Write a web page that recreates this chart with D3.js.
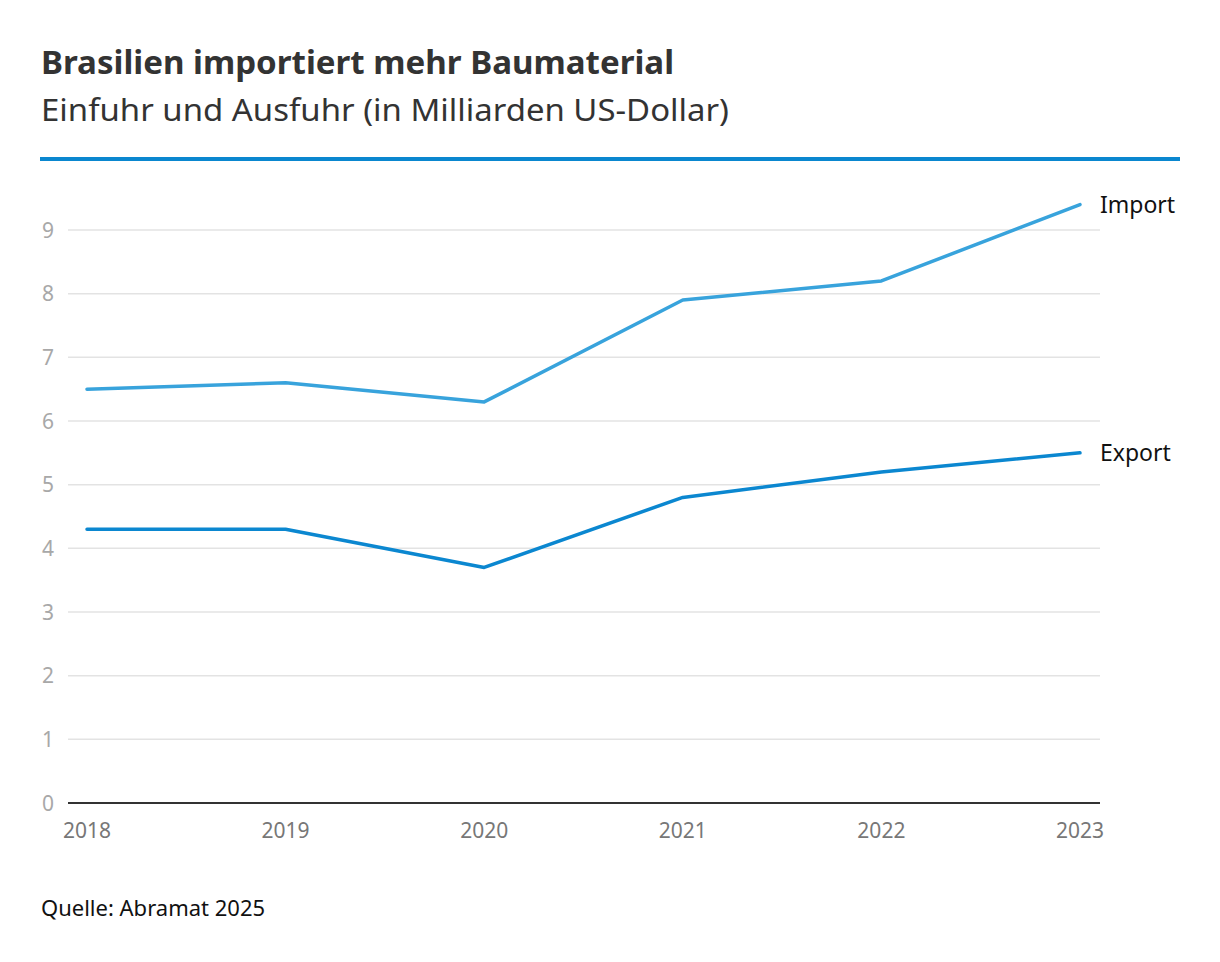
<!DOCTYPE html>
<html>
<head>
<meta charset="utf-8">
<script src="https://cdn.jsdelivr.net/npm/d3@7"></script>
<style>
  body { margin: 0; background: #fff; }
  svg { display: block; font-family: "Noto Sans", "Open Sans", sans-serif; }
</style>
</head>
<body>
<div id="chart"></div>
<script>
const years = [2018, 2019, 2020, 2021, 2022, 2023];
const importValues = [6.5, 6.6, 6.3, 7.9, 8.2, 9.4];
const exportValues = [4.3, 4.3, 3.7, 4.8, 5.2, 5.5];
const yTicks = [0, 1, 2, 3, 4, 5, 6, 7, 8, 9];
const seriesNames = ["Import", "Export"];
const seriesColors = ["#38a3dc", "#0b87d0"];

const width = 1220;
const height = 962;

const svg = d3.select("#chart")
  .append("svg")
  .attr("width", width)
  .attr("height", height);

// heading
svg.append("text")
  .attr("x", 41)
  .attr("y", 74)
  .attr("font-size", 32)
  .attr("font-weight", 700)
  .attr("fill", "#333")
  .attr("textLength", 633)
  .attr("lengthAdjust", "spacingAndGlyphs")
  .text("Brasilien importiert mehr Baumaterial");

svg.append("text")
  .attr("x", 41)
  .attr("y", 121)
  .attr("font-size", 31)
  .attr("fill", "#333")
  .attr("textLength", 688)
  .attr("lengthAdjust", "spacingAndGlyphs")
  .text("Einfuhr und Ausfuhr (in Milliarden US-Dollar)");

svg.append("rect")
  .attr("x", 40)
  .attr("y", 157)
  .attr("width", 1140)
  .attr("height", 4)
  .attr("fill", "#0a87cf");

const x = d3.scalePoint().domain(years).range([87, 1080]);
const y = d3.scaleLinear().domain([0, 9]).range([803, 230]);

const gridLeft = 68;
const gridRight = 1100;

// grid
svg.append("g")
  .selectAll("line")
  .data(yTicks.filter((d) => d > 0))
  .join("line")
  .attr("x1", gridLeft)
  .attr("x2", gridRight)
  .attr("y1", (d) => y(d))
  .attr("y2", (d) => y(d))
  .attr("stroke", "#e3e3e3")
  .attr("stroke-width", 1.5);

// y labels
svg.append("g")
  .selectAll("text")
  .data(yTicks)
  .join("text")
  .attr("x", 54)
  .attr("y", (d) => y(d))
  .attr("dy", "0.36em")
  .attr("text-anchor", "end")
  .attr("font-size", 21)
  .attr("fill", "#a8a8a8")
  .text((d) => d);

// baseline
svg.append("line")
  .attr("x1", gridLeft)
  .attr("x2", gridRight)
  .attr("y1", y(0))
  .attr("y2", y(0))
  .attr("stroke", "#333")
  .attr("stroke-width", 2);

// x labels
svg.append("g")
  .selectAll("text")
  .data(years)
  .join("text")
  .attr("x", (d) => x(d))
  .attr("y", 838)
  .attr("text-anchor", "middle")
  .attr("font-size", 21)
  .attr("fill", "#777")
  .text((d) => d);

const line = d3.line()
  .x((d, i) => x(years[i]))
  .y((d) => y(d));

const series = [importValues, exportValues];

svg.append("g")
  .selectAll("path")
  .data(series)
  .join("path")
  .attr("d", (d) => line(d))
  .attr("fill", "none")
  .attr("stroke", (d, i) => seriesColors[i])
  .attr("stroke-width", 3.5)
  .attr("stroke-linejoin", "round")
  .attr("stroke-linecap", "round");

svg.append("g")
  .selectAll("text")
  .data(series)
  .join("text")
  .attr("x", x(years[years.length - 1]) + 20)
  .attr("y", (d) => y(d[d.length - 1]))
  .attr("dy", "0.36em")
  .attr("font-size", 23)
  .attr("fill", "#111")
  .text((d, i) => seriesNames[i]);

svg.append("text")
  .attr("x", 41)
  .attr("y", 916)
  .attr("font-size", 22)
  .attr("fill", "#111")
  .text("Quelle: Abramat 2025");
</script>
</body>
</html>
